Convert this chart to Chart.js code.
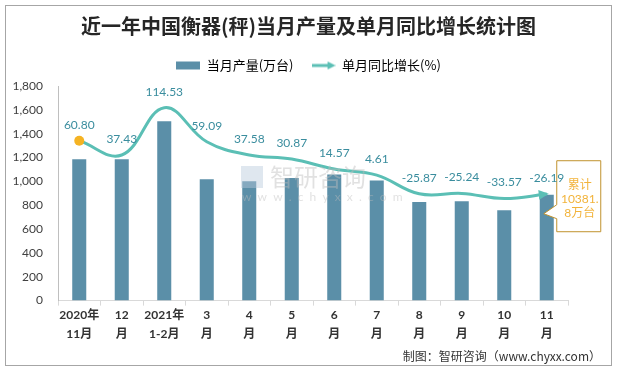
<!DOCTYPE html>
<html>
  <head>
    <title>衡器产量</title>
    <style>
      body { margin: 0; background: #fff; }
      #wrap { width: 617px; height: 372px; }
    </style>
  </head>
  <body>
    <div id="wrap"><canvas id="canvas"></canvas></div>
    <script src="https://cdn.jsdelivr.net/npm/chart.js@4.4.1/dist/chart.umd.min.js"></script>
    <script>
      const months = [
        ["2020年", "11月"], ["12", "月"], ["2021年", "1-2月"], ["3", "月"],
        ["4", "月"], ["5", "月"], ["6", "月"], ["7", "月"],
        ["8", "月"], ["9", "月"], ["10", "月"], ["11", "月"]
      ];
      const output = [1185, 1185, 1505, 1018, 1001, 1029, 1057, 1007, 827, 833, 757, 888];
      const growth = [60.80, 37.43, 114.53, 59.09, 37.58, 30.87, 14.57, 4.61, -25.87, -25.24, -33.57, -26.19];
      const totalNote = ["累计", "10381.", "8万台"];

      const barColor = "#5b8fa8";
      const lineColor = "#5bbfb5";
      const cjk = "'Noto Sans CJK SC', sans-serif";
      const latin = "Lato, 'Noto Sans CJK SC', sans-serif";

      // little legend pictures
      function swatch(draw) {
        const c = document.createElement("canvas");
        c.width = 24; c.height = 10;
        draw(c.getContext("2d"));
        return c;
      }
      const barIcon = swatch((g) => { g.fillStyle = barColor; g.fillRect(0, 1, 24, 8); });
      const lineIcon = swatch((g) => {
        g.strokeStyle = lineColor; g.lineWidth = 3;
        g.beginPath(); g.moveTo(0, 5); g.lineTo(17, 5); g.stroke();
        g.fillStyle = lineColor;
        g.beginPath(); g.moveTo(24, 5); g.lineTo(16, 1); g.lineTo(16, 9); g.closePath(); g.fill();
      });

      const extras = {
        id: "extras",
        beforeDraw(chart) {
          const ctx = chart.ctx;
          ctx.save();
          ctx.strokeStyle = "#a6a6a6";
          ctx.lineWidth = 1;
          ctx.strokeRect(5.5, 5.5, 606, 360);
          ctx.restore();
        },
        afterDatasetsDraw(chart) {
          const ctx = chart.ctx;
          const line = chart.getDatasetMeta(0).data;
          const bars = chart.getDatasetMeta(1).data;

          // watermark
          ctx.save();
          ctx.globalAlpha = 0.45;
          ctx.fillStyle = "#b9c9dc";
          ctx.fillRect(241, 166, 22, 22);
          ctx.fillStyle = "#bdbdbd";
          ctx.font = "24px " + cjk;
          ctx.textBaseline = "middle";
          ctx.fillText("智研咨询", 270, 177);
          ctx.font = "12px " + latin;
          ctx.fillText("w  w  w  .  c  h  y  x  x  .  c  o  m", 242, 197);
          ctx.restore();

          // arrow head on the last point
          const last = line[line.length - 1];
          const prev = line[line.length - 2];
          const ang = Math.atan2(last.y - (last.cp1y ?? prev.y), last.x - (last.cp1x ?? prev.x));
          ctx.save();
          ctx.translate(last.x, last.y);
          ctx.rotate(ang);
          ctx.fillStyle = lineColor;
          ctx.beginPath();
          ctx.moveTo(2, 0);
          ctx.lineTo(-8, -5);
          ctx.lineTo(-8, 5);
          ctx.closePath();
          ctx.fill();
          ctx.restore();

          // total callout next to the last bar
          const b = bars[bars.length - 1];
          const tipX = b.x - 3, tipY = b.y + 19;
          const bx = tipX + 13, by = tipY - 53, bw = 44, bh = 71;
          ctx.save();
          ctx.fillStyle = "#fff";
          ctx.strokeStyle = "#c0922e";
          ctx.lineWidth = 1;
          ctx.beginPath();
          ctx.moveTo(bx, by);
          ctx.lineTo(bx + bw, by);
          ctx.lineTo(bx + bw, by + bh);
          ctx.lineTo(bx, by + bh);
          ctx.lineTo(bx, tipY + 5);
          ctx.lineTo(tipX, tipY);
          ctx.lineTo(bx, tipY - 9);
          ctx.closePath();
          ctx.fill();
          ctx.stroke();
          ctx.fillStyle = "#f2b33a";
          ctx.font = "12px " + latin;
          ctx.textAlign = "center";
          ctx.textBaseline = "middle";
          totalNote.forEach((t, i) => ctx.fillText(t, bx + bw / 2 + 1, by + 24 + i * 14));
          ctx.restore();

          // value labels
          ctx.save();
          ctx.fillStyle = "#3a8d9e";
          ctx.font = "12px " + latin;
          ctx.textAlign = "center";
          ctx.textBaseline = "middle";
          line.forEach((p, i) => {
            ctx.fillText(growth[i].toFixed(2), p.x, p.y - 16);
          });
          ctx.restore();
        },
        afterDraw(chart) {
          const ctx = chart.ctx;
          ctx.save();
          ctx.fillStyle = "#333";
          ctx.font = "12px " + cjk;
          ctx.textAlign = "right";
          ctx.textBaseline = "middle";
          ctx.fillText("制图：智研咨询（www.chyxx.com）", 601, 356);
          ctx.restore();
        }
      };

      new Chart(document.getElementById("canvas").getContext("2d"), {
        data: {
          labels: months,
          datasets: [
            {
              type: "line",
              label: "单月同比增长(%)",
              data: growth,
              yAxisID: "y1",
              borderColor: lineColor,
              borderWidth: 3,
              tension: 0.4,
              pointRadius: growth.map((v, i) => (i === 0 ? 5 : 0)),
              pointBackgroundColor: "#f5b323",
              pointBorderWidth: 0,
              order: 0
            },
            {
              type: "bar",
              label: "当月产量(万台)",
              data: output,
              yAxisID: "y",
              backgroundColor: barColor,
              barPercentage: 0.33,
              categoryPercentage: 1,
              order: 1
            }
          ]
        },
        options: {
          responsive: true,
          maintainAspectRatio: false,
          animation: false,
          layout: { padding: { left: 6, right: 6, top: 0, bottom: 28 } },
          plugins: {
            title: {
              display: true,
              text: "近一年中国衡器(秤)当月产量及单月同比增长统计图",
              color: "#262626",
              font: { family: cjk, size: 20, weight: "bold" },
              padding: { top: 14, bottom: 3 }
            },
            legend: {
              display: true,
              labels: {
                usePointStyle: true,
                pointStyleWidth: 24,
                padding: 18,
                color: "#333",
                font: { family: cjk, size: 13 },
                generateLabels: () => [
                  { text: "当月产量(万台)", pointStyle: barIcon, fillStyle: barColor, strokeStyle: barColor, lineWidth: 0 },
                  { text: "单月同比增长(%)", pointStyle: lineIcon, fillStyle: lineColor, strokeStyle: lineColor, lineWidth: 0 }
                ]
              }
            },
            tooltip: { enabled: false }
          },
          scales: {
            x: {
              grid: { display: true, drawOnChartArea: false, offset: true, tickLength: 5, color: "#d9d9d9" },
              border: { color: "#d9d9d9" },
              ticks: {
                color: "#333",
                padding: 0,
                autoSkip: false,
                maxRotation: 0,
                font: { family: latin, size: 12, weight: "bold", lineHeight: 1.6 }
              }
            },
            // empty strip that keeps a little room under the legend
            gap: {
              type: "linear",
              position: "top",
              afterFit: (s) => { s.height = 4; },
              grid: { display: false },
              border: { display: false },
              ticks: { display: false }
            },
            y: {
              min: 0,
              max: 1800,
              afterFit: (s) => { s.width = 52; },
              grid: { display: false },
              border: { display: true, color: "#bfbfbf" },
              ticks: {
                stepSize: 200,
                padding: 7,
                color: "#404040",
                font: { family: latin, size: 12 }
              }
            },
            y1: {
              position: "right",
              min: -200,
              max: 150,
              afterFit: (s) => { s.width = 43; },
              grid: { display: false },
              border: { display: false },
              ticks: { display: false }
            }
          }
        },
        plugins: [extras]
      });
    </script>
  </body>
</html>
